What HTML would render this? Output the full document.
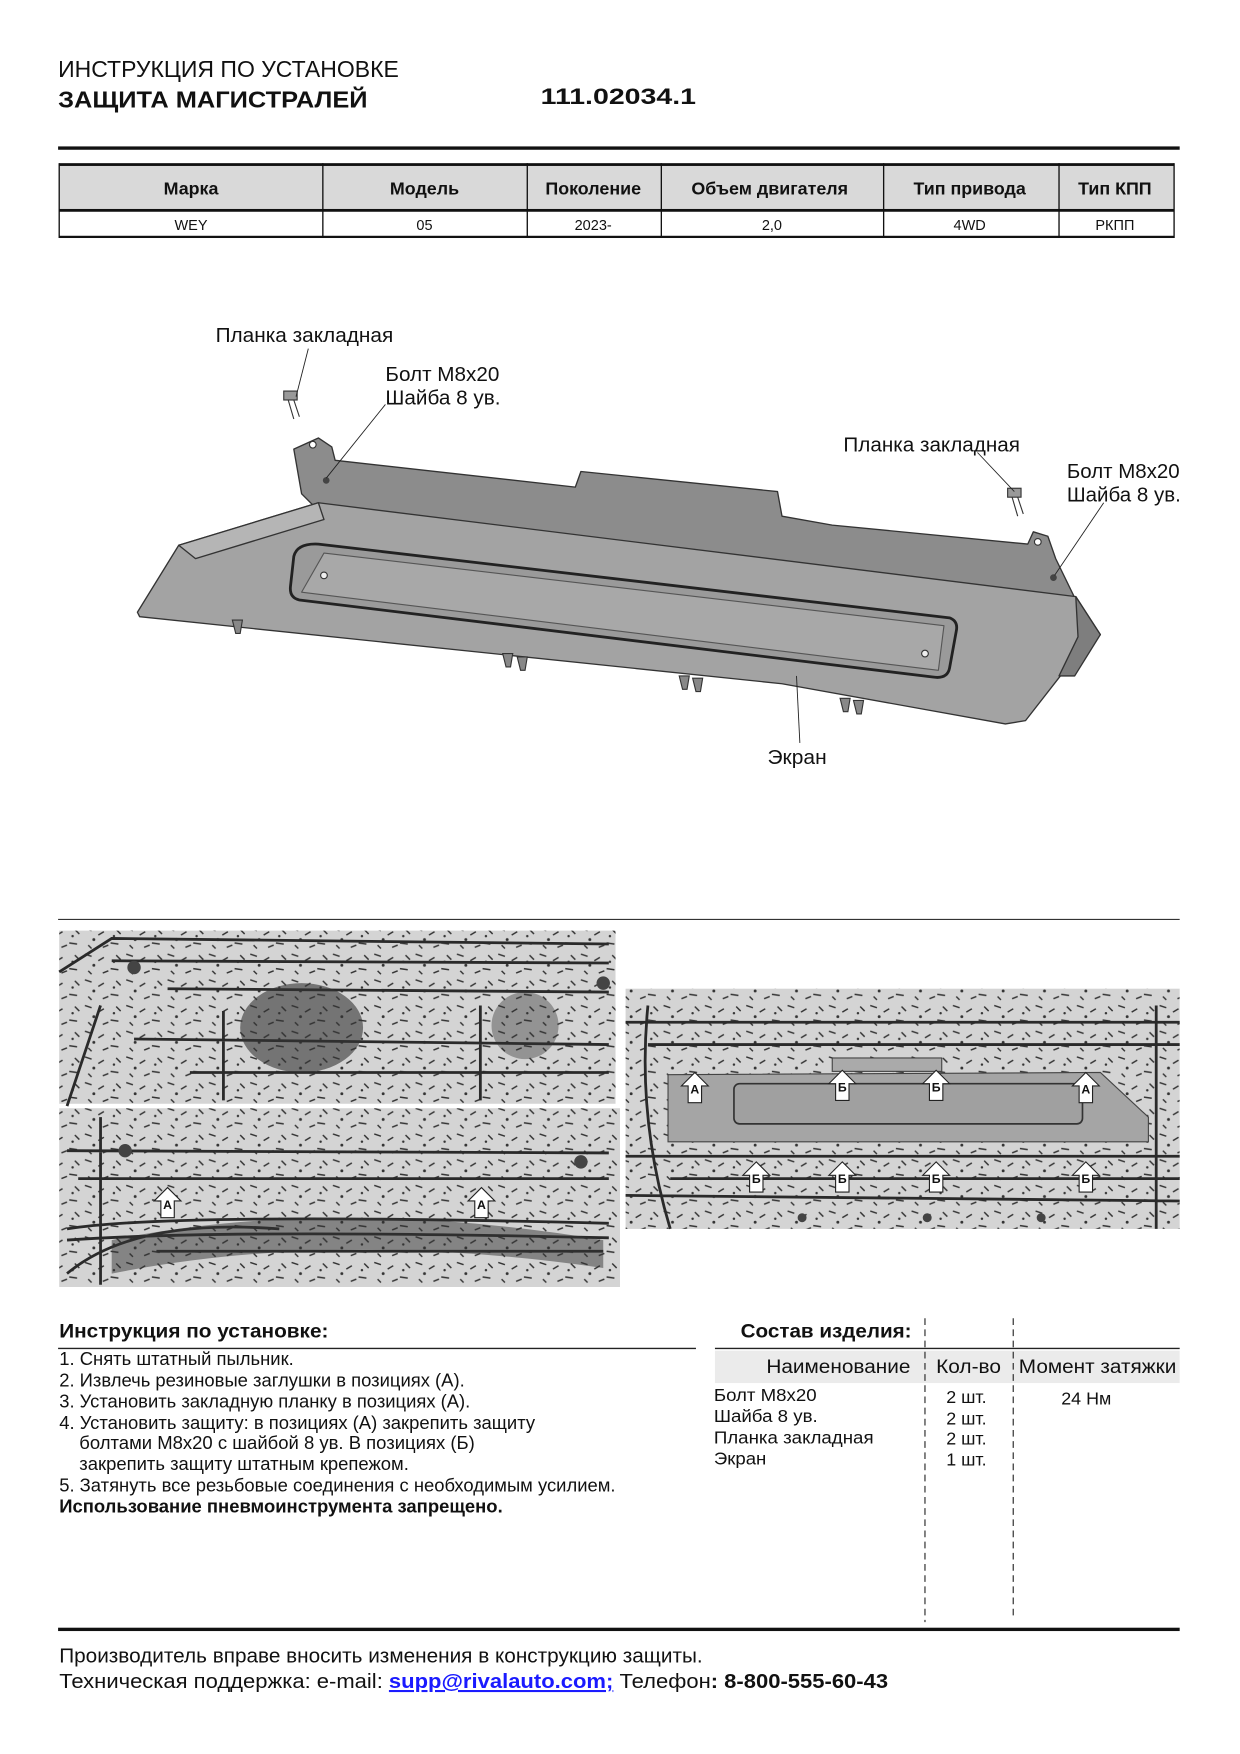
<!DOCTYPE html>
<html><head><meta charset="utf-8">
<style>
html,body{margin:0;padding:0;background:#fff;}
svg{display:block;}
text{font-family:"Liberation Sans",sans-serif;fill:#111;}
.n{font-family:"Liberation Sans Narrow","Liberation Sans",sans-serif;}
</style></head>
<body>
<svg width="1240" height="1754" viewBox="0 0 1110 1570" xmlns="http://www.w3.org/2000/svg">
<defs>
<g id="arr"><path d="M0,0 l12,12 h-6 v15 h-12 v-15 h-6 z" fill="#fff" stroke="#222" stroke-width="1"/></g>
<pattern id="nz" width="37" height="23" patternUnits="userSpaceOnUse">
<rect width="37" height="23" fill="#d4d4d4"/>
<path d="M2,3 l6,2 M14,9 l5,-3 M25,16 l7,1 M5,18 l3,3 M30,4 l4,4 M18,20 l5,-2" stroke="#333" stroke-width="1.3"/>
<circle cx="10" cy="13" r="1.3" fill="#333"/><circle cx="28" cy="10" r="1.1" fill="#333"/>
</pattern>
</defs>
<rect width="1110" height="1570" fill="#fff"/>
<!-- header -->
<text x="52" y="69" font-size="21" class="n" textLength="305" lengthAdjust="spacingAndGlyphs">ИНСТРУКЦИЯ ПО УСТАНОВКЕ</text>
<text x="52" y="96" font-size="21" font-weight="bold" textLength="277" lengthAdjust="spacingAndGlyphs">ЗАЩИТА МАГИСТРАЛЕЙ</text>
<text x="484" y="93" font-size="20" font-weight="bold" textLength="139" lengthAdjust="spacingAndGlyphs">111.02034.1</text>
<rect x="52" y="131" width="1004" height="3" fill="#111"/>
<!-- table -->
<rect x="53" y="147" width="998" height="41" fill="#d9d9d9"/>
<rect x="53" y="146" width="998" height="2.5" fill="#111"/>
<rect x="53" y="187" width="998" height="2.5" fill="#111"/>
<rect x="53" y="211" width="998" height="2" fill="#111"/>
<g stroke="#111" stroke-width="1.2">
<line x1="53" y1="146" x2="53" y2="213"/><line x1="289" y1="146" x2="289" y2="213"/>
<line x1="472" y1="146" x2="472" y2="213"/><line x1="592" y1="146" x2="592" y2="213"/>
<line x1="791" y1="146" x2="791" y2="213"/><line x1="948" y1="146" x2="948" y2="213"/>
<line x1="1051" y1="146" x2="1051" y2="213"/>
</g>
<g font-size="16" font-weight="bold" text-anchor="middle">
<text x="171" y="174">Марка</text><text x="380" y="174">Модель</text><text x="531" y="174">Поколение</text>
<text x="689" y="174">Объем двигателя</text><text x="868" y="174">Тип привода</text><text x="998" y="174">Тип КПП</text>
</g>
<g font-size="13" text-anchor="middle">
<text x="171" y="206">WEY</text><text x="380" y="206">05</text><text x="531" y="206">2023-</text>
<text x="691" y="206">2,0</text><text x="868" y="206">4WD</text><text x="998" y="206">РКПП</text>
</g>
<!-- shield drawing -->
<g stroke="#333" stroke-width="1.2" stroke-linejoin="round">
<polygon points="270,442 263,402 285,392 297,400 300,412 515,436 520,422 696,440 700,462 745,470 920,487 925,476 938,480 945,500 962,535 970,560 290,462" fill="#8c8c8c"/>
<polygon points="123,548 160,488 285,450 963,534 985,568 950,604 918,645 900,648 700,612 125,552" fill="#a3a3a3"/>
<polygon points="160,488 285,450 290,465 175,500" fill="#b5b5b5"/>
<polygon points="963,534 985,568 962,605 948,605 965,570" fill="#7e7e7e"/>
<path d="M285,487 L850,553 Q858,556 856,565 L850,598 Q848,608 835,606 L268,537 Q259,535 260,525 L263,498 Q266,486 285,487 z" fill="#9a9a9a" stroke="#222" stroke-width="2.5"/>
<path d="M290,495 L845,560 L840,600 L270,530 z" fill="#a8a8a8" stroke="#555" stroke-width="1"/>
</g>
<circle cx="290" cy="515" r="3" fill="#eee" stroke="#333"/>
<circle cx="828" cy="585" r="3" fill="#eee" stroke="#333"/>
<circle cx="280" cy="398" r="3" fill="#fff" stroke="#333"/>
<circle cx="929" cy="485" r="3" fill="#fff" stroke="#333"/>
<g fill="#888" stroke="#333" stroke-width="1">
<path d="M208,555 l3,12 l4,0 l2,-12 z"/><path d="M450,585 l3,12 l4,0 l2,-12 z"/><path d="M463,588 l3,12 l4,0 l2,-12 z"/>
<path d="M608,605 l3,12 l4,0 l2,-12 z"/><path d="M620,607 l3,12 l4,0 l2,-12 z"/><path d="M752,625 l3,12 l4,0 l2,-12 z"/><path d="M764,627 l3,12 l4,0 l2,-12 z"/>
</g>
<!-- bolts -->
<g stroke="#333" fill="#999">
<rect x="254" y="350" width="12" height="8"/><line x1="258" y1="358" x2="263" y2="375"/><line x1="263" y1="358" x2="268" y2="373"/>
<rect x="902" y="437" width="12" height="8"/><line x1="906" y1="445" x2="911" y2="462"/><line x1="911" y1="445" x2="916" y2="460"/>
</g>
<circle cx="292" cy="430" r="3" fill="#444"/><circle cx="943" cy="517" r="3" fill="#444"/>
<g stroke="#222" stroke-width="0.8">
<line x1="276" y1="312" x2="265" y2="355"/><line x1="345" y1="362" x2="292" y2="428"/>
<line x1="875" y1="405" x2="908" y2="440"/><line x1="988" y1="450" x2="944" y2="515"/>
<line x1="713" y1="605" x2="716" y2="665"/>
</g>
<g font-size="18">
<text x="193" y="306" textLength="159" lengthAdjust="spacingAndGlyphs">Планка закладная</text>
<text x="345" y="341" textLength="102" lengthAdjust="spacingAndGlyphs">Болт М8х20</text><text x="345" y="362" textLength="103" lengthAdjust="spacingAndGlyphs">Шайба 8 ув.</text>
<text x="755" y="404" textLength="158" lengthAdjust="spacingAndGlyphs">Планка закладная</text>
<text x="955" y="428" textLength="101" lengthAdjust="spacingAndGlyphs">Болт М8х20</text><text x="955" y="449" textLength="102" lengthAdjust="spacingAndGlyphs">Шайба 8 ув.</text>
<text x="687" y="684" textLength="53" lengthAdjust="spacingAndGlyphs">Экран</text>
</g>
<line x1="52" y1="823" x2="1056" y2="823" stroke="#333" stroke-width="1"/>
<!-- photos -->
<rect x="53" y="833" width="498" height="155" fill="url(#nz)"/>
<rect x="53" y="992" width="502" height="160" fill="url(#nz)"/>
<rect x="560" y="885" width="496" height="215" fill="url(#nz)"/>
<g stroke="#2a2a2a" stroke-width="2.5" fill="none">
<path d="M53,870 L100,840 L545,845 M100,860 L545,862 M150,885 L545,888 M170,960 L545,960 M200,905 L200,985 M430,900 L430,985 M60,990 L90,900 M120,930 L545,935"/>
<path d="M60,1030 L545,1032 M70,1055 L545,1055 M60,1100 Q150,1085 545,1095 M60,1140 Q120,1090 250,1100 M140,1120 L540,1120 M90,1000 L90,1150 M60,1110 Q200,1100 545,1108"/>
<path d="M560,915 L1056,915 M580,935 L1056,935 M560,1035 L1056,1035 M600,1055 L1056,1055 M580,900 Q570,1000 600,1100 M1035,900 L1035,1100 M560,1070 L1056,1075"/>
</g>
<ellipse cx="270" cy="920" rx="55" ry="40" fill="#333" opacity="0.6"/>
<ellipse cx="470" cy="918" rx="30" ry="30" fill="#333" opacity="0.4"/>
<path d="M100,1110 Q300,1070 540,1110 L540,1135 Q300,1100 100,1140 z" fill="#333" opacity="0.5"/>
<g fill="#444">
<circle cx="120" cy="866" r="6"/><circle cx="540" cy="880" r="6"/><circle cx="112" cy="1030" r="6"/><circle cx="520" cy="1040" r="6"/>
<circle cx="718" cy="1090" r="4"/><circle cx="830" cy="1090" r="4"/><circle cx="932" cy="1090" r="4"/>
</g>
<rect x="745" y="947" width="98" height="12" fill="#aaa" stroke="#444"/>
<polygon points="598,962 985,960 1028,1000 1028,1022 598,1022" fill="#a5a5a5" stroke="#444"/>
<rect x="657" y="970" width="312" height="36" rx="5" fill="#a0a0a0" stroke="#333" stroke-width="1.5"/>
<g>
<use href="#arr" x="622" y="960"/><use href="#arr" x="754" y="958"/><use href="#arr" x="838" y="958"/><use href="#arr" x="972" y="960"/>
<use href="#arr" x="677" y="1040"/><use href="#arr" x="754" y="1040"/><use href="#arr" x="838" y="1040"/><use href="#arr" x="972" y="1040"/>
<use href="#arr" x="150" y="1063"/><use href="#arr" x="431" y="1063"/>
</g>
<g font-size="11" font-weight="bold" text-anchor="middle">
<text x="622" y="979">А</text><text x="754" y="977">Б</text><text x="838" y="977">Б</text><text x="972" y="979">А</text>
<text x="677" y="1059">Б</text><text x="754" y="1059">Б</text><text x="838" y="1059">Б</text><text x="972" y="1059">Б</text>
<text x="150" y="1082">А</text><text x="431" y="1082">А</text>
</g>
<!-- instructions -->
<text x="53" y="1197" font-size="17.5" font-weight="bold" textLength="241" lengthAdjust="spacingAndGlyphs">Инструкция по установке:</text>
<line x1="52" y1="1207" x2="623" y2="1207" stroke="#222" stroke-width="1.2"/>
<g font-size="16.5">
<text x="53" y="1222" textLength="210" lengthAdjust="spacingAndGlyphs">1. Снять штатный пыльник.</text>
<text x="53" y="1241" textLength="363" lengthAdjust="spacingAndGlyphs">2. Извлечь резиновые заглушки в позициях (А).</text>
<text x="53" y="1260" textLength="368" lengthAdjust="spacingAndGlyphs">3. Установить закладную планку в позициях (А).</text>
<text x="53" y="1279" textLength="426" lengthAdjust="spacingAndGlyphs">4. Установить защиту: в позициях (А) закрепить защиту</text>
<text x="71" y="1297" textLength="354" lengthAdjust="spacingAndGlyphs">болтами М8х20 с шайбой 8 ув. В позициях (Б)</text>
<text x="71" y="1316" textLength="295" lengthAdjust="spacingAndGlyphs">закрепить защиту штатным крепежом.</text>
<text x="53" y="1335" textLength="498" lengthAdjust="spacingAndGlyphs">5. Затянуть все резьбовые соединения с необходимым усилием.</text>
<text x="53" y="1354" font-weight="bold" textLength="397" lengthAdjust="spacingAndGlyphs">Использование пневмоинструмента запрещено.</text>
</g>
<text x="663" y="1197" font-size="17.5" font-weight="bold" textLength="153" lengthAdjust="spacingAndGlyphs">Состав изделия:</text>
<rect x="640" y="1209" width="416" height="29" fill="#ebebeb"/>
<line x1="640" y1="1207" x2="1056" y2="1207" stroke="#222" stroke-width="1.2"/>
<g stroke="#222" stroke-width="1" stroke-dasharray="6,4">
<line x1="828" y1="1180" x2="828" y2="1452"/><line x1="907" y1="1180" x2="907" y2="1450"/>
</g>
<g font-size="17">
<text x="686" y="1229" textLength="129" lengthAdjust="spacingAndGlyphs">Наименование</text>
<text x="838" y="1229" textLength="58" lengthAdjust="spacingAndGlyphs">Кол-во</text>
<text x="912" y="1229" textLength="141" lengthAdjust="spacingAndGlyphs">Момент затяжки</text>
</g>
<g font-size="16">
<text x="639" y="1254" textLength="92" lengthAdjust="spacingAndGlyphs">Болт М8х20</text><text x="639" y="1273" textLength="93" lengthAdjust="spacingAndGlyphs">Шайба 8 ув.</text>
<text x="639" y="1292" textLength="143" lengthAdjust="spacingAndGlyphs">Планка закладная</text><text x="639" y="1311" textLength="47" lengthAdjust="spacingAndGlyphs">Экран</text>
<text x="847" y="1256">2 шт.</text><text x="847" y="1275">2 шт.</text><text x="847" y="1293">2 шт.</text><text x="847" y="1312">1 шт.</text>
<text x="950" y="1257">24 Нм</text>
</g>
<rect x="52" y="1457" width="1004" height="3" fill="#111"/>
<g font-size="18.5">
<text x="53" y="1488" textLength="576" lengthAdjust="spacingAndGlyphs">Производитель вправе вносить изменения в конструкцию защиты.</text>
<text x="53" y="1511" textLength="742" lengthAdjust="spacingAndGlyphs">Техническая поддержка:  e-mail: <tspan fill="#1a1aff" font-weight="bold" text-decoration="underline">supp@rivalauto.com;</tspan> Телефон<tspan font-weight="bold">: 8-800-555-60-43</tspan></text>
</g>
</svg>
</body></html>
